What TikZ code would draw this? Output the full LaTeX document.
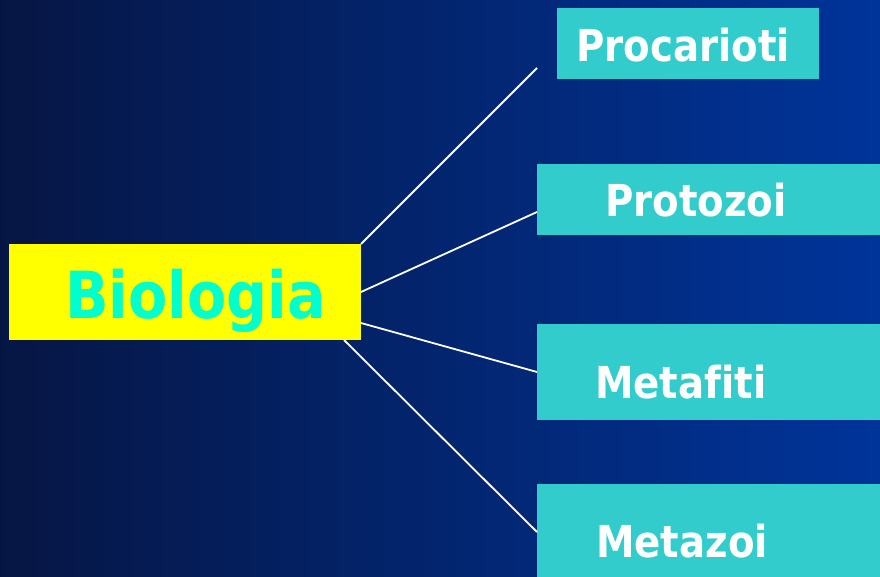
\documentclass[tikz,border=0pt]{standalone}
\usepackage{fontspec}
\setmainfont{DejaVu Sans}[BoldFont={DejaVu Sans Bold}, FakeStretch=0.88, Ligatures={NoCommon}]
\begin{document}
\begin{tikzpicture}[x=1pt,y=-1pt,
  box/.style={rectangle, inner sep=0pt, outer sep=0pt, anchor=north west},
  leaf/.style={box, fill=leafcol},
  lbl/.style={anchor=base west, inner sep=0pt, font=\bfseries\fontsize{44}{50}\selectfont, text=white},
  link/.style={draw=white, line width=1.8pt}]
\definecolor{bgleft}{RGB}{6,22,68}
\definecolor{bgright}{RGB}{0,52,154}
\definecolor{leafcol}{RGB}{51,204,204}
\definecolor{rootcol}{RGB}{255,255,0}
\definecolor{roottext}{RGB}{0,255,204}
\useasboundingbox (0,0) rectangle (880,577);
\shade[left color=bgleft, right color=bgright] (0,0) rectangle (880,577);
% boxes
\node[box, fill=rootcol, minimum width=352pt, minimum height=96pt] (root) at (9,244) {};
\node[leaf, minimum width=262pt, minimum height=71pt] (pro) at (557,8) {};
\node[leaf, minimum width=343pt, minimum height=71pt] (prz) at (537,164) {};
\node[leaf, minimum width=343pt, minimum height=96pt] (mtf) at (537,324) {};
\node[leaf, minimum width=343pt, minimum height=93pt] (mtz) at (537,484) {};
% texts
\node[lbl, text=roottext, font=\bfseries\fontsize{65}{70}\selectfont] (troot) at (65,318) {Biologia};
\node[lbl] (tpro) at (576,62) {Procarioti};
\node[lbl] (tprz) at (605,217) {Protozoi};
\node[lbl] (tmtf) at (595,398) {Metafiti};
\node[lbl] (tmtz) at (596,557) {Metazoi};
% connectors
\coordinate (e1) at (537,68);
\draw[link] (root.north east) -- (e1);
\draw[link] ([yshift=-48pt]root.north east) -- ([yshift=-48pt]prz.north west);
\draw[link] ([yshift=-79pt]root.north east) -- ([yshift=-48pt]mtf.north west);
\draw[link] ([xshift=-17pt]root.south east) -- ([yshift=-48pt]mtz.north west);
\end{tikzpicture}
\end{document}
